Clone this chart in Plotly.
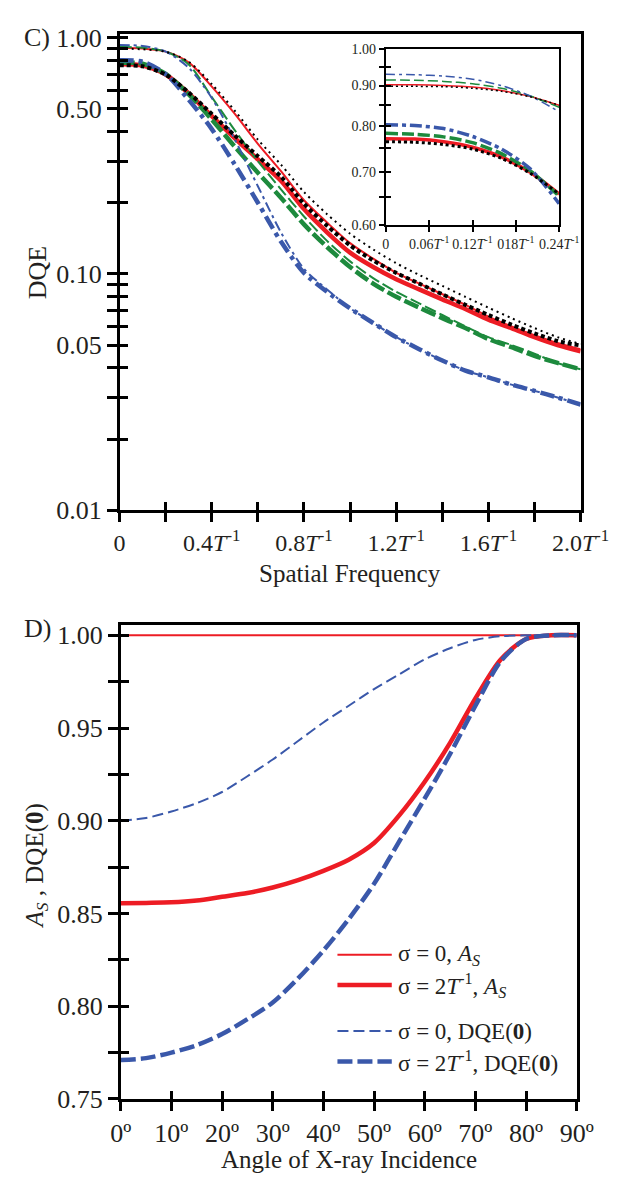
import plotly.graph_objects as go

# Panel C: DQE vs spatial frequency (units of 1/T)
freq = [0.0, 0.1, 0.2, 0.3, 0.4, 0.5, 0.6, 0.7, 0.8, 0.9, 1.0,
        1.1, 1.2, 1.3, 1.4, 1.5, 1.6, 1.7, 1.8, 1.9, 2.0]

red_thin = [0.905, 0.898, 0.872, 0.785, 0.62, 0.475, 0.355, 0.272, 0.205, 0.165, 0.135,
            0.116, 0.101, 0.091, 0.082, 0.074, 0.066, 0.060, 0.055, 0.051, 0.048]
red_thick = [0.771, 0.762, 0.698, 0.58, 0.465, 0.375, 0.305, 0.248, 0.188, 0.150, 0.123,
             0.107, 0.095, 0.086, 0.078, 0.071, 0.064, 0.059, 0.054, 0.050, 0.047]
black_thin = [0.898, 0.892, 0.871, 0.79, 0.635, 0.49, 0.37, 0.29, 0.222, 0.179, 0.148,
              0.127, 0.111, 0.099, 0.089, 0.080, 0.072, 0.065, 0.059, 0.054, 0.0505]
black_thick = [0.764, 0.756, 0.697, 0.585, 0.475, 0.385, 0.315, 0.258, 0.198, 0.160, 0.132,
               0.114, 0.101, 0.091, 0.082, 0.074, 0.067, 0.061, 0.056, 0.052, 0.0498]
green_thin = [0.914, 0.905, 0.873, 0.77, 0.56, 0.405, 0.30, 0.228, 0.175, 0.138, 0.113,
              0.096, 0.084, 0.075, 0.067, 0.060, 0.054, 0.050, 0.046, 0.042, 0.0395]
green_thick = [0.782, 0.775, 0.702, 0.575, 0.45, 0.345, 0.268, 0.21, 0.162, 0.130, 0.107,
               0.091, 0.080, 0.072, 0.065, 0.059, 0.053, 0.049, 0.045, 0.042, 0.0395]
blue_thin = [0.930, 0.922, 0.872, 0.745, 0.555, 0.37, 0.235, 0.15, 0.105, 0.086, 0.0715,
             0.062, 0.054, 0.048, 0.043, 0.039, 0.0365, 0.034, 0.032, 0.030, 0.028]
blue_thick = [0.802, 0.79, 0.70, 0.545, 0.41, 0.29, 0.20, 0.137, 0.101, 0.084, 0.0715,
              0.062, 0.054, 0.048, 0.043, 0.039, 0.0365, 0.034, 0.032, 0.030, 0.028]

# inset (low frequencies)
freq_inset = [0.0, 0.04, 0.08, 0.12, 0.16, 0.20, 0.24]
inset_red_thin = [0.902, 0.902, 0.900, 0.896, 0.887, 0.872, 0.850]
inset_black_thin = [0.898, 0.898, 0.897, 0.893, 0.885, 0.871, 0.850]
inset_green_thin = [0.915, 0.914, 0.911, 0.905, 0.893, 0.873, 0.845]
inset_blue_thin = [0.930, 0.929, 0.925, 0.917, 0.900, 0.873, 0.834]
inset_red_thick = [0.771, 0.770, 0.764, 0.752, 0.731, 0.699, 0.656]
inset_black_thick = [0.764, 0.763, 0.758, 0.748, 0.728, 0.697, 0.656]
inset_green_thick = [0.783, 0.781, 0.775, 0.762, 0.738, 0.702, 0.652]
inset_blue_thick = [0.803, 0.801, 0.794, 0.776, 0.748, 0.706, 0.638]

# Panel D: A_S and DQE(0) vs angle of incidence
angle = [0, 5, 10, 15, 20, 25, 30, 35, 40, 45, 50, 55, 60, 65, 70, 75, 80, 85, 90]
as_sigma0 = [1.0, 1.0, 1.0, 1.0, 1.0, 1.0, 1.0, 1.0, 1.0, 1.0,
             1.0, 1.0, 1.0, 1.0, 1.0, 1.0, 1.0, 1.0, 1.0]
as_sigma2 = [0.8555, 0.8557, 0.856, 0.857, 0.859, 0.861, 0.864, 0.868, 0.873, 0.879,
             0.888, 0.903, 0.921, 0.942, 0.966, 0.987, 0.998, 1.0, 1.0]
dqe0_sigma0 = [0.900, 0.9015, 0.905, 0.9095, 0.9155, 0.924, 0.933, 0.943, 0.953, 0.962,
               0.971, 0.979, 0.987, 0.993, 0.9975, 0.9995, 1.0, 1.0, 1.0]
dqe0_sigma2 = [0.771, 0.772, 0.775, 0.779, 0.785, 0.793, 0.802, 0.815, 0.830, 0.847,
               0.866, 0.889, 0.912, 0.936, 0.962, 0.986, 0.998, 1.0, 1.0]

# ticks: labelled ones + unlabelled (minor) ones
tiT = '<i>T</i><sup>-1</sup>'
c_xvals = [0.0, 0.4, 0.8, 1.2, 1.6, 2.0]
c_xtext = ['0', '0.4' + tiT, '0.8' + tiT, '1.2' + tiT, '1.6' + tiT, '2.0' + tiT]
c_xminor = [0.2, 0.6, 1.0, 1.4, 1.8]
c_yvals = [0.01, 0.05, 0.1, 0.5, 1.0]
c_ytext = ['0.01', '0.05', '0.10', '0.50', '1.00']
c_yminor = [0.02, 0.03, 0.04, 0.06, 0.07, 0.08, 0.09,
            0.2, 0.3, 0.4, 0.6, 0.7, 0.8, 0.9]
in_xvals = [0.0, 0.06, 0.12, 0.18, 0.24]
in_xtext = ['0', '0.06' + tiT, '0.12' + tiT, '018' + tiT, '0.24' + tiT]
in_yvals = [0.60, 0.70, 0.80, 0.90, 1.00]
in_ytext = ['0.60', '0.70', '0.80', '0.90', '1.00']
in_yminor = [0.65, 0.75, 0.85, 0.95]
d_xvals = [0, 10, 20, 30, 40, 50, 60, 70, 80, 90]
d_xtext = ['0º', '10º', '20º', '30º', '40º', '50º', '60º', '70º', '80º', '90º']
d_yvals = [0.75, 0.80, 0.85, 0.90, 0.95, 1.0]
d_ytext = ['0.75', '0.80', '0.85', '0.90', '0.95', '1.00']
d_yminor = [0.775, 0.825, 0.875, 0.925, 0.975]

# legend of panel D
legend_names = ['σ = 0, <i>A</i><sub><i>S</i></sub>',
                'σ = 2' + tiT + ', <i>A</i><sub><i>S</i></sub>',
                'σ = 0, DQE(<b>0</b>)',
                'σ = 2' + tiT + ', DQE(<b>0</b>)']

FONT = 'Liberation Serif'
TXT = '#231f20'
RED = '#ed1c24'
GREEN = '#1d8a3d'
BLUE = '#3a58aa'
BLACK = '#000000'

W, H = 631, 1182

fig = go.Figure()

# main panel C: thin = sigma 0, thick = sigma 2/T
styles = [
    (red_thin, RED, 2, 'solid'),
    (red_thick, RED, 4.5, 'solid'),
    (green_thin, GREEN, 2, '12px,4px'),
    (green_thick, GREEN, 4.5, '15px,4px'),
    (blue_thin, BLUE, 2, '10px,4px,3px,4px'),
    (blue_thick, BLUE, 4.5, '14px,5px,4px,5px'),
    (black_thin, BLACK, 2, '2px,4px'),
    (black_thick, BLACK, 4, '4px,3px'),
]
for ys, col, w, dash in styles:
    fig.add_trace(go.Scatter(x=freq, y=ys, mode='lines', xaxis='x', yaxis='y',
                             line=dict(color=col, width=w, dash=dash, shape='spline', smoothing=0.8),
                             showlegend=False, hoverinfo='skip'))

inset_styles = [
    (inset_red_thin, RED, 1.5, 'solid'),
    (inset_red_thick, RED, 3.5, 'solid'),
    (inset_green_thin, GREEN, 1.5, '10px,4px'),
    (inset_green_thick, GREEN, 3.5, '12px,4px'),
    (inset_blue_thin, BLUE, 1.5, '9px,4px,3px,4px'),
    (inset_blue_thick, BLUE, 3.5, '12px,4px,4px,4px'),
    (inset_black_thin, BLACK, 1.5, '2px,3px'),
    (inset_black_thick, BLACK, 3, '3px,3px'),
]
for ys, col, w, dash in inset_styles:
    fig.add_trace(go.Scatter(x=freq_inset, y=ys, mode='lines', xaxis='x2', yaxis='y2',
                             line=dict(color=col, width=w, dash=dash, shape='spline', smoothing=0.8),
                             showlegend=False, hoverinfo='skip'))

# panel D
d_styles = [
    (as_sigma0, RED, 2, 'solid'),
    (as_sigma2, RED, 4.5, 'solid'),
    (dqe0_sigma0, BLUE, 2, '11px,5px'),
    (dqe0_sigma2, BLUE, 4.5, '15px,5px'),
]
for ys, col, w, dash in d_styles:
    fig.add_trace(go.Scatter(x=angle, y=ys, mode='lines', xaxis='x3', yaxis='y3',
                             line=dict(color=col, width=w, dash=dash, shape='spline', smoothing=0.8),
                             showlegend=False, hoverinfo='skip'))

# empty traces so the overlay (inside-tick) axes get drawn
for xa, ya in [('x4', 'y'), ('x', 'y4'), ('x5', 'y2'), ('x2', 'y5'), ('x6', 'y3'), ('x3', 'y6')]:
    fig.add_trace(go.Scatter(x=[], y=[], xaxis=xa, yaxis=ya, mode='lines',
                             showlegend=False, hoverinfo='skip'))


def frame(minor_vals, size=26, lw=2.5, tl=10):
    ax = dict(showline=True, linecolor='black', linewidth=lw, mirror=True,
              ticks='outside', ticklen=tl, tickwidth=lw, tickcolor='black',
              showgrid=False, zeroline=False, tickmode='array',
              tickfont=dict(family=FONT, size=size, color=TXT))
    if minor_vals:
        ax['minor'] = dict(tickmode='array', tickvals=minor_vals, ticks='outside',
                           ticklen=tl, tickwidth=lw, tickcolor='black', showgrid=False)
    return ax


def inner(minor_vals, lw=2.5, tl=8):
    ax = dict(showline=False, showgrid=False, zeroline=False, tickmode='array',
              ticks='inside', ticklen=tl, tickwidth=lw, tickcolor='black',
              showticklabels=False)
    if minor_vals:
        ax['minor'] = dict(tickmode='array', tickvals=minor_vals, ticks='inside',
                           ticklen=tl, tickwidth=lw, tickcolor='black', showgrid=False)
    return ax


cx = [107.4 / W, 599.6 / W]
cy = [1 - 503 / H, 1 - 16.5 / H]
ix = [391.7 / W, 576.7 / W]
iy = [1 - 211.7 / H, 1 - 31.7 / H]
dx = [108.6 / W, 595.5 / W]
dy = [1 - 1104.5 / H, 1 - 620 / H]

c_yrange = [-2.0005, 0.0145]
in_yrange = [-0.2225, 0.0005]
d_yrange = [0.7499, 1.0056]

fig.update_layout(
    width=W, height=H, autosize=False,
    margin=dict(l=0, r=0, t=0, b=0),
    paper_bgcolor='white', plot_bgcolor='white',
    font=dict(family=FONT, size=23, color=TXT),
    showlegend=False,
    xaxis=dict(domain=cx, range=[0, 2], anchor='y', tickvals=c_xvals, ticktext=c_xtext,
               **frame(c_xminor, 24, tl=9)),
    yaxis=dict(domain=cy, type='log', range=c_yrange, anchor='x', tickvals=c_yvals, ticktext=c_ytext,
               **frame(c_yminor, 26)),
    xaxis2=dict(domain=ix, range=[0, 0.24], anchor='y2', tickvals=in_xvals, ticktext=in_xtext,
                **frame(None, size=14, lw=2, tl=5)),
    yaxis2=dict(domain=iy, type='log', range=in_yrange, anchor='x2', tickvals=in_yvals, ticktext=in_ytext,
                **frame(in_yminor, size=14, lw=2, tl=5)),
    xaxis3=dict(domain=dx, range=[0, 90], anchor='y3', tickvals=d_xvals, ticktext=d_xtext,
                **frame(None, 26, tl=9)),
    yaxis3=dict(domain=dy, range=d_yrange, anchor='x3', tickvals=d_yvals, ticktext=d_ytext,
                **frame(d_yminor, 26)),
    # overlay axes give the ticks that cross the frame
    xaxis4=dict(overlaying='x', anchor='y', domain=cx, range=[0, 2], tickvals=c_xvals, **inner(c_xminor)),
    yaxis4=dict(overlaying='y', anchor='x', domain=cy, type='log', range=c_yrange, tickvals=c_yvals,
                **inner(c_yminor)),
    xaxis5=dict(overlaying='x2', anchor='y2', domain=ix, range=[0, 0.24], tickvals=in_xvals,
                **inner(None, 2, 5)),
    yaxis5=dict(overlaying='y2', anchor='x2', domain=iy, type='log', range=in_yrange, tickvals=in_yvals,
                **inner(in_yminor, 2, 5)),
    xaxis6=dict(overlaying='x3', anchor='y3', domain=dx, range=[0, 90], tickvals=d_xvals, **inner(None)),
    yaxis6=dict(overlaying='y3', anchor='x3', domain=dy, range=d_yrange, tickvals=d_yvals,
                **inner(d_yminor)),
)

# hand-placed legend for panel D (key line + label)
leg_y = [957, 988, 1035, 1066]
for (ys, col, w, dash), name, py in zip(d_styles, legend_names, leg_y):
    fig.add_shape(type='line', xref='paper', yref='paper', x0=340 / W, x1=398 / W,
                  y0=1 - py / H, y1=1 - py / H, line=dict(color=col, width=w, dash=dash))
    fig.add_annotation(xref='paper', yref='paper', x=402 / W, y=1 - py / H, text=name,
                       xanchor='left', yanchor='middle', showarrow=False,
                       font=dict(family=FONT, size=23, color=TXT))

annots = [
    dict(text='C)', x=3 / W, y=1 - 20 / H, xanchor='left', yanchor='middle', size=26),
    dict(text='D)', x=3 / W, y=1 - 624 / H, xanchor='left', yanchor='middle', size=26),
    dict(text='DQE', x=20 / W, y=1 - 260 / H, textangle=-90, xanchor='center', yanchor='middle', size=26),
    dict(text='<i>A</i><sub><i>S</i></sub> , DQE(<b>0</b>)', x=19 / W, y=1 - 866 / H, textangle=-90,
         xanchor='center', yanchor='middle', size=25),
    dict(text='Spatial Frequency', x=353 / W, y=1 - 567 / H, xanchor='center', yanchor='middle', size=25),
    dict(text='Angle of X-ray Incidence', x=352 / W, y=1 - 1166 / H, xanchor='center', yanchor='middle',
         size=25),
]
for a in annots:
    size = a.pop('size')
    fig.add_annotation(xref='paper', yref='paper', showarrow=False,
                       font=dict(family=FONT, size=size, color=TXT), **a)

fig.write_html('out.html')
